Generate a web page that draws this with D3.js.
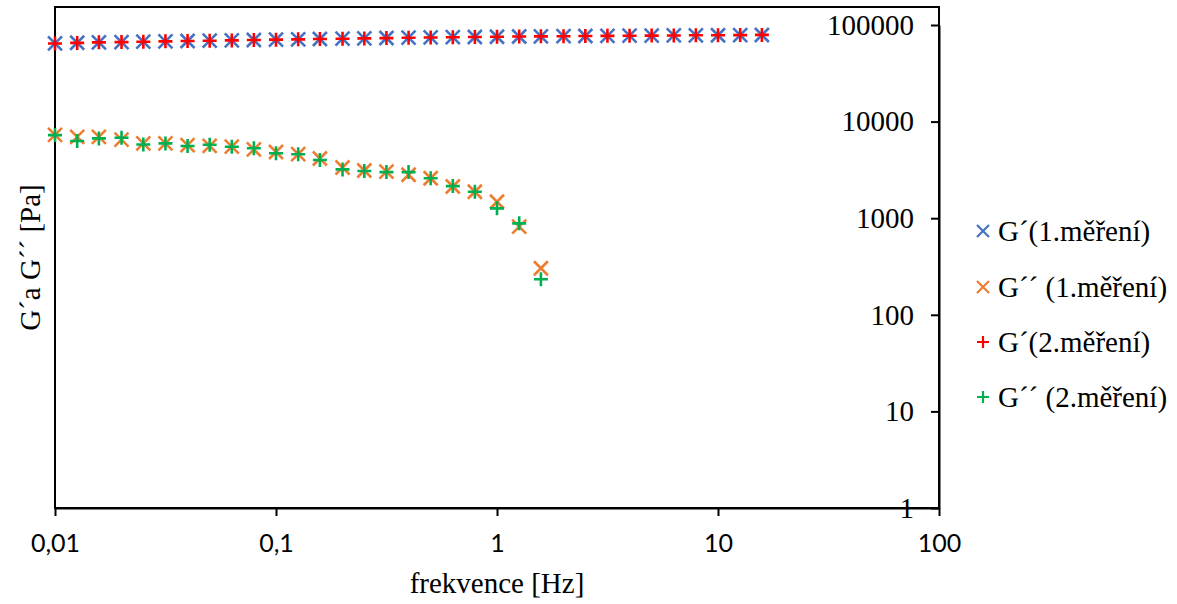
<!DOCTYPE html>
<html>
<head>
<meta charset="utf-8">
<script src="https://cdn.jsdelivr.net/npm/d3@7/dist/d3.min.js"></script>
<style>
  html, body { margin: 0; padding: 0; background: #fff; }
  svg { display: block; }
</style>
</head>
<body>
<svg id="chart" width="1177" height="604"></svg>
<script>
// ---- data ----
const freq = [0.01, 0.0126, 0.0158, 0.02, 0.0251, 0.0316, 0.0398, 0.0501, 0.0631, 0.0794,
  0.1, 0.126, 0.158, 0.2, 0.251, 0.316, 0.398, 0.501, 0.631, 0.794,
  1, 1.26, 1.58, 2, 2.51, 3.16, 3.98, 5.01, 6.31, 7.94, 10, 12.6, 15.8];
const gPrime1 = [64500, 65500, 66200, 66600, 67200, 67800, 68300, 68800, 69400, 70000,
  70600, 71100, 71600, 72200, 72800, 73300, 73900, 74400, 74900, 75200,
  75600, 76000, 76300, 76600, 76900, 77200, 77500, 77700, 78000, 78200, 78400, 78600, 78800];
const gPrime2 = [64300, 65300, 66100, 66500, 67100, 67700, 68200, 68800, 69300, 69900,
  70500, 71000, 71600, 72100, 72700, 73200, 73800, 74300, 74800, 75200,
  75600, 75900, 76300, 76600, 76900, 77200, 77400, 77700, 77900, 78200, 78400, 78600, 79000];
const freq2 = freq.slice(0, 23);
const gDouble1 = [7300, 6950, 6950, 6500, 5950, 5950, 5700, 5600, 5500, 5150,
  4850, 4600, 4150, 3350, 3120, 3040, 2820, 2590, 2130, 1880, 1480, 817, 303];
const gDouble2 = [7250, 6300, 6700, 6800, 5800, 5950, 5600, 5750, 5500, 5300,
  4700, 4600, 4000, 3200, 3080, 3000, 3000, 2590, 2150, 1880, 1265, 885, 233];
const xTicks = [0.01, 0.1, 1, 10, 100];
const xTickLabels = ["0,01", "0,1", "1", "10", "100"];
const yTicks = [1, 10, 100, 1000, 10000, 100000];
const yTickLabels = ["1", "10", "100", "1000", "10000", "100000"];
const seriesNames = ["G\u00B4(1.m\u011B\u0159en\u00ED)", "G\u00B4\u00B4 (1.m\u011B\u0159en\u00ED)",
  "G\u00B4(2.m\u011B\u0159en\u00ED)", "G\u00B4\u00B4 (2.m\u011B\u0159en\u00ED)"];
const seriesColors = ["#4472C4", "#ED7D31", "#FF0000", "#00B050"];
const seriesShapes = ["x", "x", "plus", "plus"];
const xTitle = "frekvence [Hz]";
const yTitle = "G\u00B4a G\u00B4\u00B4 [Pa]";

// ---- layout ----
const L = 55, R = 939, B = 508, T = 7;
const x = d3.scaleLog().domain([0.01, 100]).range([L, R]);
const y = d3.scaleLog().domain([1, 100000]).range([B, 25]);

const svg = d3.select("#chart");
const serif = "'Liberation Serif', 'Times New Roman', serif";
const sans = "Lato, 'Open Sans', sans-serif";

// frame
svg.append("rect").attr("x", L).attr("y", T).attr("width", R - L).attr("height", B - T)
  .attr("fill", "none").attr("stroke", "#000").attr("stroke-width", 2);

// x axis
const xAxis = d3.axisBottom(x).tickValues(xTicks).tickSize(8).tickSizeOuter(0)
  .tickFormat((d, i) => xTickLabels[i]);
const gx = svg.append("g").attr("transform", `translate(0,${B})`).call(xAxis);
gx.select(".domain").attr("stroke", "#000").attr("stroke-width", 2);
gx.selectAll(".tick line").attr("stroke", "#000").attr("stroke-width", 2);
gx.selectAll(".tick text").attr("font-family", sans).attr("font-size", 25)
  .attr("fill", "#000").attr("y", 0).attr("dy", "1.75em");

// y axis on right, ticks inward, labels left of ticks
const yAxis = d3.axisLeft(y).tickValues(yTicks).tickSize(8).tickSizeOuter(0).tickPadding(17)
  .tickFormat((d, i) => yTickLabels[i]);
const gy = svg.append("g").attr("transform", `translate(${R},0)`).call(yAxis);
gy.select(".domain").attr("stroke", "#000").attr("stroke-width", 2);
gy.selectAll(".tick line").attr("stroke", "#000").attr("stroke-width", 2);
gy.selectAll(".tick text").attr("font-family", serif).attr("font-size", 29).attr("fill", "#000");

// titles
svg.append("text").attr("x", (L + R) / 2).attr("y", 593).attr("text-anchor", "middle")
  .attr("font-family", serif).attr("font-size", 29).attr("fill", "#000").text(xTitle);
svg.append("text").attr("transform", `translate(40,${(T + B) / 2}) rotate(-90)`)
  .attr("text-anchor", "middle").attr("font-family", serif).attr("font-size", 29)
  .attr("fill", "#000").text(yTitle);

// markers
function markerPath(shape, h) {
  if (shape === "x") return `M${-h},${-h}L${h},${h}M${-h},${h}L${h},${-h}`;
  return `M${-h},0L${h},0M0,${-h}L0,${h}`;
}
const series = [
  { xs: freq, ys: gPrime1 },
  { xs: freq2, ys: gDouble1 },
  { xs: freq, ys: gPrime2 },
  { xs: freq2, ys: gDouble2 }
];
series.forEach((s, k) => {
  const pts = s.xs.map((f, i) => [f, s.ys[i]]);
  svg.append("g").selectAll("path").data(pts).join("path")
    .attr("transform", d => `translate(${x(d[0])},${y(d[1])})`)
    .attr("d", markerPath(seriesShapes[k], 7))
    .attr("fill", "none").attr("stroke", seriesColors[k])
    .attr("stroke-width", seriesShapes[k] === "x" ? 2.6 : 2.6);
});

// legend
const legY = [231, 287, 342, 397];
const leg = svg.append("g");
seriesNames.forEach((name, k) => {
  const g = leg.append("g").attr("transform", `translate(983,${legY[k]})`);
  g.append("path").attr("d", markerPath(seriesShapes[k], 6))
    .attr("fill", "none").attr("stroke", seriesColors[k]).attr("stroke-width", 2.2);
  g.append("text").attr("x", 15).attr("y", 0).attr("dy", "0.33em")
    .attr("font-family", serif).attr("font-size", 29).attr("fill", "#000").text(name);
});
</script>
</body>
</html>
